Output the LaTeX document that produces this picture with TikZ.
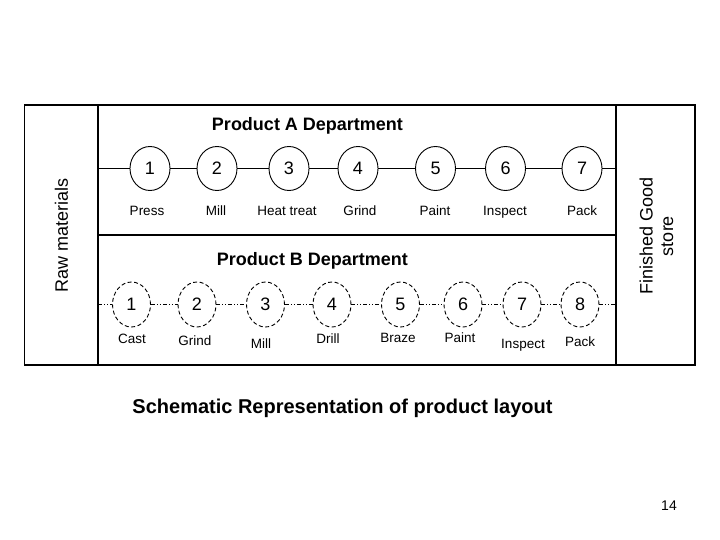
\documentclass[tikz,border=0pt]{standalone}
\usepackage{fontspec}
\setmainfont{Liberation Sans}
\usetikzlibrary{shapes.geometric,positioning}

\begin{document}
\begin{tikzpicture}[
    x=1pt, y=-1pt,
    frame/.style={line width=1.4pt},
    procA/.style={draw, ellipse, fill=white, line width=0.9pt, inner sep=0pt, minimum width=40pt, minimum height=44pt, font=\fontsize{18}{20}\selectfont},
    procB/.style={procA, minimum width=38pt, minimum height=45pt, dash pattern=on 4pt off 2.5pt},
    opname/.style={anchor=base, inner sep=0pt, font=\fontsize{13.5}{15}\selectfont},
    dept/.style={anchor=base, inner sep=0pt, font=\fontsize{18}{20}\selectfont\bfseries},
    side/.style={rotate=90, align=center, inner sep=0pt, font=\fontsize{18}{20.5}\selectfont},
    lineA/.style={line width=0.9pt},
    lineB/.style={line width=0.8pt, dash pattern=on 4pt off 2pt on 1pt off 2pt on 1pt off 2pt}
]
\useasboundingbox (0,0) rectangle (720,540);

% frame
\draw[frame] (24.5,105) rectangle (695,365);
\draw[frame] (98,105) -- (98,365);
\draw[frame] (616,105) -- (616,365);
\draw[frame] (98,235) -- (616,235);

\node[side] (raw) at (61.5,235) {Raw materials};
\node[side] (store) at (656.5,236) {Finished Good\\store};

% product A
\node[dept] (depta) at (307.5,131) {Product A Department};
\coordinate (ain) at (98,168.5);
\coordinate (aout) at (616,168.5);
\node[procA] (a1) at (150,168.5) {1};
\node[procA] (a2) at (217,168.5) {2};
\node[procA] (a3) at (289,168.5) {3};
\node[procA] (a4) at (358,168.5) {4};
\node[procA] (a5) at (435.5,168.5) {5};
\node[procA] (a6) at (505.5,168.5) {6};
\node[procA] (a7) at (582,168.5) {7};
\draw[lineA] (ain) -- (a1) -- (a2) -- (a3) -- (a4) -- (a5) -- (a6) -- (a7) -- (aout);
\node[opname] (la1) at (147,215) {Press};
\node[opname] (la2) at (216,215) {Mill};
\node[opname] (la3) at (287,215) {Heat treat};
\node[opname] (la4) at (360,215) {Grind};
\node[opname] (la5) at (435,215) {Paint};
\node[opname] (la6) at (505,215) {Inspect};
\node[opname] (la7) at (582,215) {Pack};

% product B
\node[dept] (deptb) at (312.5,265) {Product B Department};
\coordinate (bin) at (98,304.5);
\coordinate (bout) at (616,304.5);
\node[procB] (b1) at (131.5,304.5) {1};
\node[procB] (b2) at (197,304.5) {2};
\node[procB] (b3) at (265.5,304.5) {3};
\node[procB] (b4) at (332,304.5) {4};
\node[procB] (b5) at (400.5,304.5) {5};
\node[procB] (b6) at (463,304.5) {6};
\node[procB] (b7) at (522,304.5) {7};
\node[procB] (b8) at (580,304.5) {8};
\draw[lineB] (bin) -- (b1) -- (b2) -- (b3) -- (b4) -- (b5) -- (b6) -- (b7) -- (b8) -- (bout);
\node[opname] (lb1) at (132,343) {Cast};
\node[opname] (lb2) at (195,345) {Grind};
\node[opname] (lb3) at (261,348) {Mill};
\node[opname] (lb4) at (328,343) {Drill};
\node[opname] (lb5) at (398,342) {Braze};
\node[opname] (lb6) at (460,342) {Paint};
\node[opname] (lb7) at (523,348) {Inspect};
\node[opname] (lb8) at (580,346) {Pack};

\node[anchor=base, inner sep=0pt, font=\fontsize{20}{22}\selectfont\bfseries] (caption) at (342.5,413) {Schematic Representation of product layout};
\node[anchor=base, inner sep=0pt, font=\fontsize{14}{16}\selectfont] (page) at (669,510.5) {14};
\end{tikzpicture}
\end{document}
